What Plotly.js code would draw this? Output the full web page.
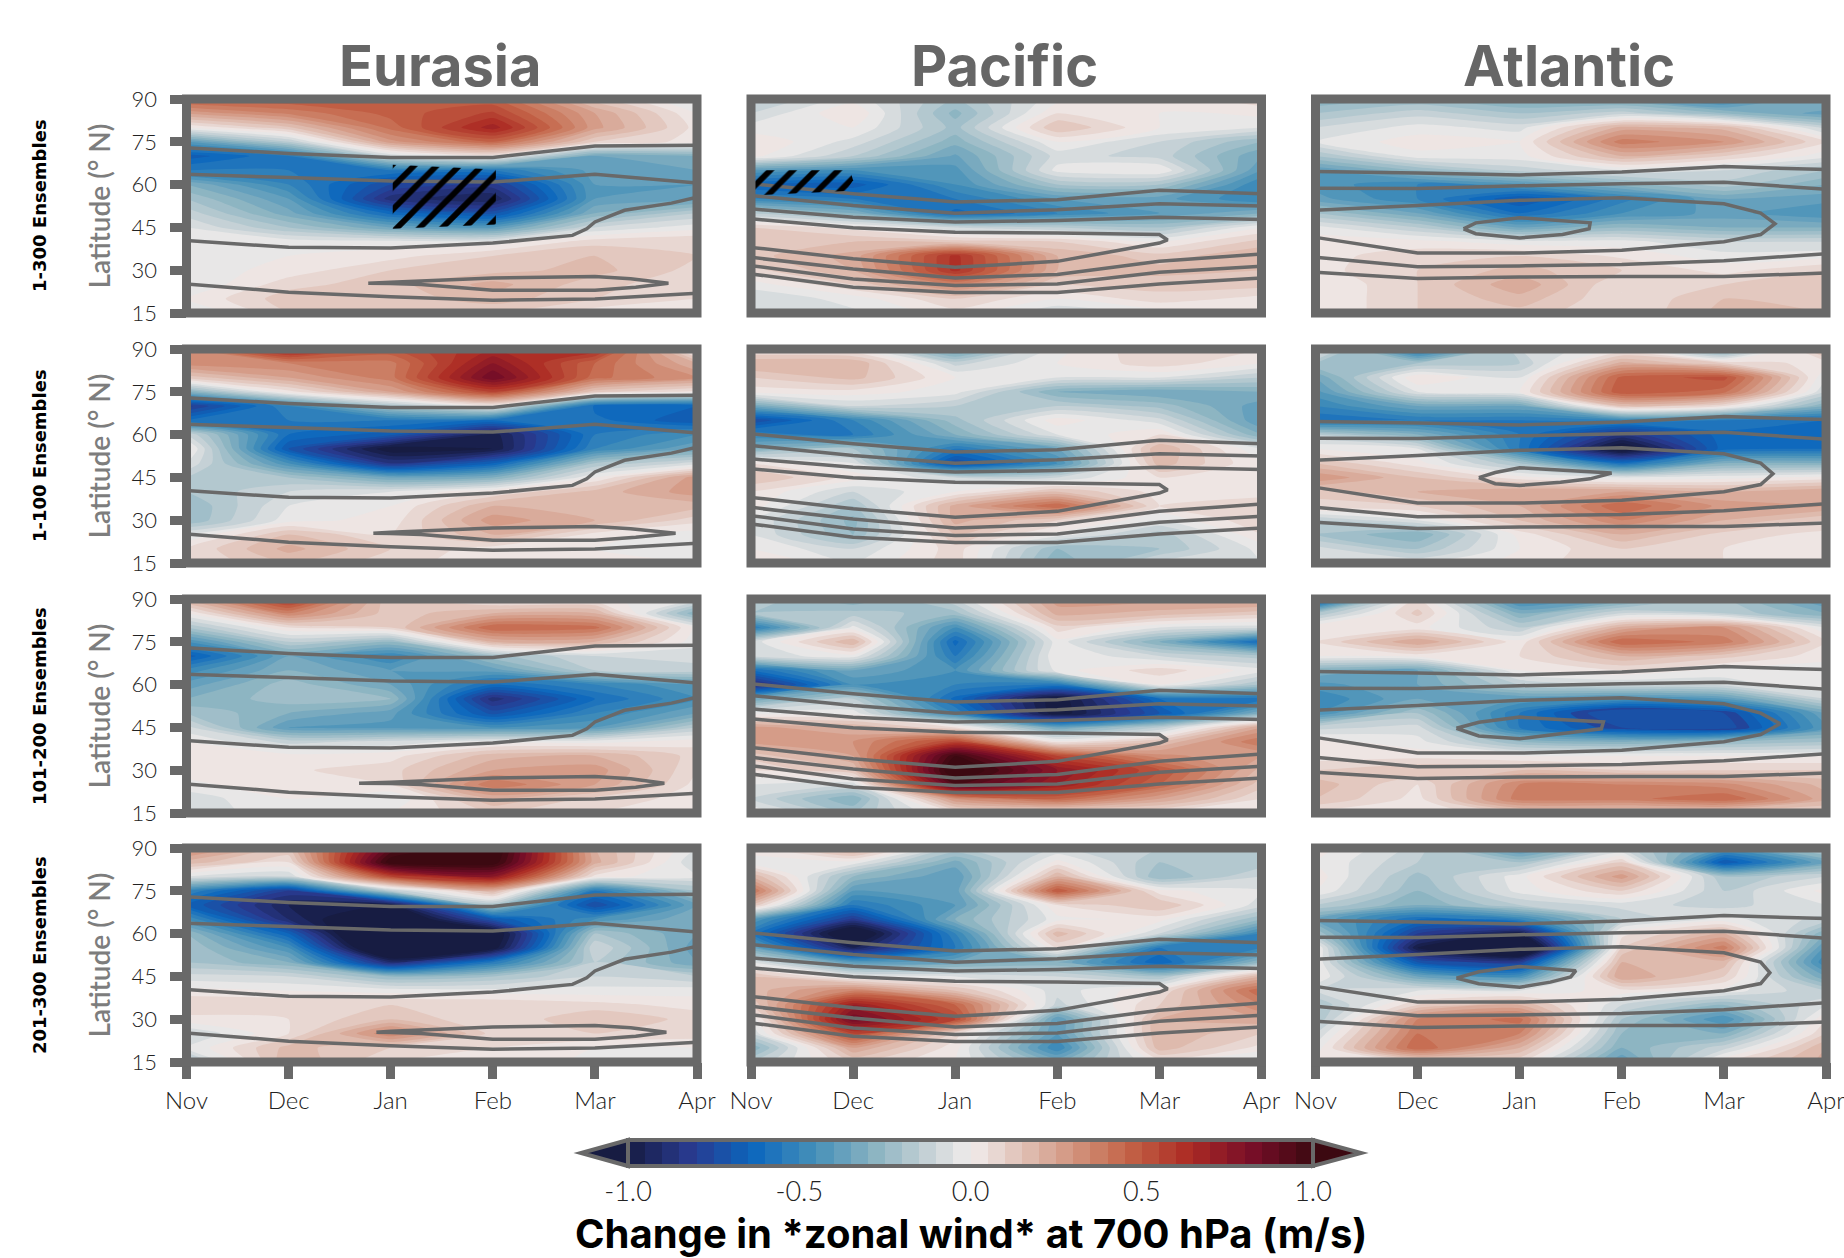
<!DOCTYPE html>
<html><head><meta charset="utf-8">
<script src="https://cdn.plot.ly/plotly-3.0.1.min.js"></script>
<style>html,body{margin:0;padding:0;background:#fff}</style></head>
<body><div id="chart" style="width:1844px;height:1258px"></div>
<script>
const months=["Nov","Dec","Jan","Feb","Mar","Apr"];
const monthPos=[0,1,2,3,4,5];
const lats=[90,85,80,75,70,65,60,55,50,45,40,35,30,25,20,15];
const latTicks=[15,30,45,60,75,90];
const regions=["Eurasia","Pacific","Atlantic"];
const ensembles=["1-300 Ensembles","1-100 Ensembles","101-200 Ensembles","201-300 Ensembles"];
// each panel: one list per month (Nov..Apr), values from 90N down to 15N
const eurasia_1_300=[
[.48,.26,0,-.4,-.68,-.55,-.3,-.2,-.12,-.05,0,0,-.03,-.05,0,-.08],
[.5,.36,.14,-.15,-.55,-.55,-.5,-.4,-.33,-.2,-.02,0,.02,.08,.13,.1],
[.5,.47,.42,.28,-.1,-.55,-.75,-.88,-.62,-.35,-.03,.03,.1,.13,.12,.12],
[.46,.56,.68,.45,.02,-.55,-.82,-.95,-.72,-.4,-.03,.1,.13,.22,.18,.1],
[.12,.25,.27,.1,-.35,-.38,-.4,-.4,-.3,-.1,.08,.15,.17,.12,.1,.02],
[-.08,0,.03,.03,-.3,-.35,-.4,-.38,-.15,-.02,.1,.1,.08,.06,.05,.02]];
const pacific_1_300=[
[-.18,-.1,-.03,.05,.02,-.4,-.65,-.5,-.15,.1,.13,.13,.08,-.03,-.09,-.04],
[-.02,.05,0,-.07,-.15,-.45,-.68,-.55,-.3,.03,.15,.22,.2,.1,-.03,-.06],
[-.2,-.27,-.22,-.28,-.36,-.42,-.45,-.55,-.62,-.1,.12,.62,.62,.35,.1,.03],
[-.02,.05,.15,0,-.08,-.03,-.2,-.4,-.5,-.15,.1,.2,.2,.1,0,-.1],
[.02,0,0,-.1,-.12,0,-.2,-.38,-.4,-.2,0,.12,.17,.12,.08,-.03],
[.08,.02,-.05,-.25,-.35,-.4,-.5,-.5,-.3,0,.12,.2,.15,.12,.03,0]];
const atlantic_1_300=[
[-.3,-.2,-.1,-.05,-.2,-.4,-.42,-.38,-.2,-.03,.03,.03,.03,0,0,0],
[-.25,-.12,-.03,.03,-.02,-.25,-.5,-.5,-.35,-.15,.02,.08,.1,.1,.1,.1],
[-.33,-.2,-.07,0,-.02,-.13,-.42,-.7,-.6,-.35,-.03,.1,.17,.24,.18,.13],
[-.35,-.12,.22,.38,.2,-.05,-.28,-.52,-.45,-.25,-.03,.04,.1,.05,.05,.05],
[-.5,-.25,.18,.3,.1,-.1,-.17,-.35,-.38,-.3,-.1,-.03,.03,.1,.15,.17],
[-.25,-.38,-.12,.05,-.03,-.2,-.3,-.38,-.45,-.3,-.1,-.02,.1,.15,.15,.15]];
const eurasia_1_100=[
[.35,.33,.12,-.3,-.82,-.6,-.1,.03,-.05,-.15,-.2,-.25,-.25,-.05,.05,.05],
[.7,.35,.25,.03,-.5,-.55,-.6,-.7,-.45,-.2,-.1,-.05,-.02,.15,.22,.15],
[.5,.38,.38,.25,-.2,-.55,-.68,-1.05,-.85,-.35,-.05,0,.02,.05,.1,.07],
[.65,.75,.85,.55,0,-.6,-.98,-1,-.65,-.3,.05,.2,.28,.2,.02,.02],
[.65,.45,.42,.12,-.62,-.58,-.55,-.5,-.2,0,.17,.2,.2,.03,0,.03],
[-.05,.2,.3,.03,-.65,-.7,-.45,-.35,-.08,.28,.28,.17,.07,-.03,0,0]];
const pacific_1_100=[
[.03,.2,.1,.02,-.35,-.75,-.5,-.3,.05,.15,.05,.03,-.05,-.05,0,.08],
[0,.2,.17,.03,-.1,-.5,-.55,-.2,-.05,.03,-.1,-.2,-.27,-.25,-.1,-.05],
[-.4,-.12,0,-.03,-.15,-.22,-.3,-.55,-.75,-.1,0,.22,.22,.15,.08,.08],
[-.02,0,-.05,-.3,-.15,.03,-.05,-.35,-.45,-.1,.15,.45,.1,-.02,-.25,-.3],
[.1,.08,-.05,-.35,-.22,-.08,.05,.2,.18,.05,.03,.05,-.05,-.18,-.2,-.08],
[.05,0,-.15,-.3,-.38,-.4,-.3,-.05,0,.05,.03,.08,.1,.05,-.03,-.05]];
const atlantic_1_100=[
[0,-.2,-.35,-.42,-.5,-.6,-.15,0,.15,.3,.12,.08,-.15,-.2,-.08,-.03],
[-.6,-.2,.05,-.05,-.35,-.55,-.3,-.05,.02,.15,.2,.1,-.05,-.3,-.2,-.05],
[-.1,-.15,-.05,0,-.35,-.55,-.55,-.55,-.2,.02,.25,.2,.15,.02,0,.02],
[0,.22,.47,.5,.15,-.5,-.85,-1.1,-.6,-.05,.25,.45,.35,.2,.1,.1],
[-.35,.1,.52,.42,.05,-.55,-.62,-.62,-.3,-.02,.2,.28,.2,.08,.05,.05],
[.22,.02,-.05,-.1,-.3,-.6,-.6,-.6,-.3,.02,.25,.25,.1,.03,.03,.02]];
const eurasia_101_200=[
[.22,0,-.2,-.45,-.68,-.48,-.38,-.3,-.2,-.08,0,.03,.03,-.02,-.08,-.1],
[.62,.35,.05,-.15,-.35,-.3,-.22,-.22,-.3,-.4,-.12,.02,.04,.05,0,0],
[.1,.12,.1,-.25,-.5,-.4,-.35,-.25,-.38,-.42,-.08,.03,.08,.05,-.05,0],
[.02,.2,.45,.2,-.22,-.38,-.6,-.88,-.72,-.45,-.02,.18,.25,.4,.2,.1],
[.02,.2,.42,.2,-.1,-.15,-.5,-.6,-.5,-.4,-.02,.2,.28,.25,.08,.05],
[-.05,-.3,-.02,-.03,-.08,-.12,-.4,-.45,-.35,-.15,.03,.08,.05,.03,.03,.02]];
const pacific_101_200=[
[-.15,-.2,-.55,-.08,-.08,-.6,-.9,-.35,-.03,.27,.27,.12,.05,-.05,-.1,0],
[-.3,-.18,-.03,.2,-.02,-.35,-.45,-.15,-.02,.2,.3,.25,.15,-.08,-.3,-.2],
[-.1,-.22,-.45,-.62,-.55,-.45,-.5,-.62,-.5,.05,.55,1,1.1,.95,.3,.03],
[.28,.22,.08,-.02,0,-.02,-.55,-1.05,-1.05,-.35,.02,.55,.75,.7,.45,.03],
[.27,.18,-.05,-.3,-.1,.08,0,-.6,-.7,-.15,.15,.32,.5,.45,.25,.03],
[.3,.12,-.08,-.62,-.18,-.03,-.2,-.58,-.3,.25,.4,.25,.18,.12,.05,.05]];
const atlantic_101_200=[
[-.75,-.2,.05,.05,0,-.3,-.42,-.5,-.45,-.12,.02,.02,.1,.18,.15,.03],
[.05,.12,.02,.25,.02,-.35,-.35,-.35,-.2,-.08,-.03,.03,.15,.05,.03,0],
[-.5,-.3,-.15,.02,.05,0,-.15,-.4,-.55,-.55,-.25,0,.15,.35,.38,.1],
[-.35,-.1,.22,.45,.2,.05,-.1,-.45,-.85,-.75,-.3,0,.1,.35,.38,.1],
[-.2,-.15,.3,.38,.12,-.02,-.08,-.4,-.75,-.8,-.25,0,.1,.32,.45,.1],
[-.42,-.3,-.05,.05,.02,-.03,0,-.1,-.35,-.4,-.2,0,.1,.18,.22,.07]];
const eurasia_201_300=[
[.35,.18,-.05,-.5,-.65,-.45,-.25,-.2,-.2,-.08,.02,.1,.03,-.1,-.05,-.2],
[.15,.05,-.1,-.8,-.95,-.9,-.65,-.45,-.3,-.1,0,.1,.05,.05,.17,.2],
[.9,1.05,.55,-.15,-1,-1.2,-1.4,-1.3,-.9,-.25,-.02,.1,.15,.35,.1,.05],
[1.1,1.05,.75,.2,-.2,-.7,-1.1,-1.05,-.55,-.2,-.03,.1,.05,.08,.05,.05],
[.2,.22,.03,-.55,-.75,-.45,-.2,-.1,-.15,-.1,-.03,.07,.15,.1,0,-.02],
[-.05,-.1,-.05,-.2,-.35,-.3,-.35,-.38,-.35,-.15,-.02,.03,.08,.08,0,-.05]];
const pacific_201_300=[
[.03,-.03,.2,.42,.15,-.4,-.55,-.35,-.05,.15,.17,.1,-.05,-.1,-.3,-.15],
[.25,-.02,-.25,-.4,-.55,-.82,-1.15,-.95,-.4,-.02,.35,.7,.85,.55,.25,.1],
[-.15,-.32,-.4,-.38,-.4,-.3,-.5,-.55,-.35,-.05,.15,.45,.55,.08,.02,0],
[-.1,.02,.2,.5,.05,-.02,.18,.05,-.3,-.1,-.08,-.12,-.4,-.4,-.5,-.3],
[-.15,-.2,-.25,.02,.15,.02,-.1,-.55,-.65,-.2,.05,.1,.2,.2,.18,.02],
[-.15,-.18,-.1,-.05,-.08,-.25,-.5,-.5,-.25,.2,.45,.35,.25,.1,.03,-.1]];
const atlantic_201_300=[
[.03,0,.03,0,-.15,-.35,-.2,.02,0,0,-.1,-.2,-.2,-.1,-.03,0],
[-.12,-.15,-.22,-.25,-.3,-.6,-.8,-1,-.7,-.35,-.05,.1,.35,.4,.45,.05],
[-.45,-.2,-.02,-.03,-.15,-.5,-1,-1.3,-.8,-.45,-.05,.2,.42,.35,.2,.05],
[-.12,.1,.28,.1,-.08,-.15,.03,.1,.2,.25,.03,-.1,-.2,-.25,-.3,-.4],
[-.4,-.7,-.2,-.15,-.12,-.03,.2,.38,.18,.1,-.02,-.25,-.45,-.3,-.12,.05],
[-.15,-.35,-.1,.02,-.05,-.12,-.3,-.42,-.5,-.35,-.15,-.05,.05,.1,.2,.22]];
const panels=[
[eurasia_1_300,pacific_1_300,atlantic_1_300],
[eurasia_1_100,pacific_1_100,atlantic_1_100],
[eurasia_101_200,pacific_101_200,atlantic_101_200],
[eurasia_201_300,pacific_201_300,atlantic_201_300]];
// climatology contours: [months, latitudes]
const eurasiaLines=[
[[0,1,2,3,4,5],[72.9,70.9,69.5,69.5,73.5,73.8]],
[[0,1,2,3,4,5],[63.6,62.5,61.3,60.9,63.6,60.6]],
[[0,1,2,3,3.78,3.92,4,4.29,4.75,5],[40.4,38,37.8,39.5,42.2,44.5,46.9,51,53.5,55.6]],
[[0,1,2,3,4,5],[25.2,22.3,20.7,19.5,19.9,21.9]]];
const eurasiaLensTips=[[1.78,4.72],[1.83,4.79],[1.69,4.68],[1.86,4.7]];
const eurasiaLensUpper=[25.8,27.3,27.8,27];
const eurasiaLensLower=[24,23,23,25];
const pacificLines=[
[[0,1,2,3,4,5],[60.3,56.8,53.9,54.7,58,56.8]],
[[0,1,2,3,4,5],[56.2,52.7,50,51.2,53.3,52.5]],
[[0,1,2,3,4,5],[51.5,48.6,46.9,47.4,48.6,47.8]],
[[0,1,2,3,4,4.08,4,3,2,1,0],[48,44.9,43.3,43,42.5,40.6,39.5,33.1,31,34,38]],
[[0,1,2,3,4,5],[34.5,30.4,27.3,28.5,33.1,35.7]],
[[0,1,2,3,4,5],[31.6,26.9,24.6,25.2,29.3,31.4]],
[[0,1,2,3,4,5],[28.7,24,22.2,22.2,25.2,27.3]]];
const atlanticLines=[
[[0,1,2,3,4,5],[64.6,64.1,63.4,64.4,66.3,65.3]],
[[0,1,2,3,4,5],[58.7,58.6,59.6,60.3,60.8,58.4]],
[[0,1,2,3,4,5],[34.5,31.2,31.5,32,33.3,35.8]],
[[0,1,2,3,4,5],[29.3,27.1,27.6,27.8,27.8,29]]];
const atlanticBigTip=[4.5,4.48,4.55,4.45];
const atlanticBigX=[0,1,2,3,4,4.36,null,4.36,4,3,2,1,0];
const atlanticBigLat=[51,52.7,54.5,55.4,53.3,50,null,42.5,40,37,36,36,41.5];
const atlanticSmall=[
[[1.45,1.57,2,2.69,2.68,2.42,2,1.57,1.45],[44.5,46.6,48.4,46.6,44.5,42.5,41.3,42.8,44.5]],
[[1.6,1.76,2,2.9,2.69,2.4,2,1.76,1.6],[44.9,46.7,48.4,46.5,44.5,43.3,42.2,42.8,44.9]],
[[1.38,1.6,2,2.82,2.8,2.4,2,1.6,1.38],[44.7,46.8,48.6,46.9,44.5,42.8,41,42,44.7]],
[[1.38,1.6,2,2.55,2.5,2.3,2,1.6,1.38],[44.4,46.6,48.5,47,44.8,43,41.2,42.4,44.4]]];
// significance regions
const hatchEurasiaX=[2.02,3.03,3.03,2.02,2.02];
const hatchEurasiaY=[67,65.3,46,44.5,67];
const hatchPacificX=[0,.97,1,.93,0,0];
const hatchPacificY=[65,65,61.5,57.8,56.2,65];
const colorStops=[[0,"rgb(23,28,66)"],[.0909,"rgb(41,58,143)"],[.1818,"rgb(11,102,189)"],[.2727,"rgb(69,144,185)"],[.3636,"rgb(142,181,194)"],[.4545,"rgb(210,216,219)"],[.5,"rgb(241,236,236)"],[.5455,"rgb(230,210,204)"],[.6364,"rgb(213,157,137)"],[.7273,"rgb(196,101,72)"],[.8182,"rgb(172,43,36)"],[.9091,"rgb(120,14,40)"],[1,"rgb(60,9,17)"]];
const cbTicks=[-1,-.5,0,.5,1];
const cbLabels=["-1.0","-0.5","0.0","0.5","1.0"];

// layout geometry, in pixels
const W=1844,H=1258,GREY="#696969";
const colL=[186.5,751,1315.5],colW=510.5;
const rowT=[99,349,599,848],rowH=214;
const px=v=>v/W, py=v=>1-v/H;
const FONT="Lato, 'Noto Sans', sans-serif";
const BOLD="Inter, Lato, sans-serif";

const traces=[],annotations=[],shapes=[],layout={};
panels.forEach((row,r)=>row.forEach((monthly,c)=>{
  const id=r*3+c+1, xa="x"+id, ya="y"+id;
  const z=lats.map((_,j)=>monthly.map(m=>m[j]));
  traces.push({type:"contour",x:monthPos,y:lats,z,xaxis:xa,yaxis:ya,zmin:-1,zmax:1,colorscale:colorStops,
    autocontour:false,contours:{start:-1,end:1,size:.05,coloring:"fill",showlines:false},
    line:{width:0,smoothing:.6},hoverinfo:"skip",
    showscale:id===1,
    colorbar:id===1?{orientation:"h",thickness:26,thicknessmode:"pixels",len:685,lenmode:"pixels",x:px(970.5),xanchor:"center",
      y:py(1140),yanchor:"top",xpad:0,ypad:0,outlinecolor:GREY,outlinewidth:4,ticks:"",tickmode:"array",tickvals:cbTicks,ticktext:cbLabels,
      tickfont:{family:FONT,size:27,color:"#222",weight:300},ticklabelposition:"outside"}:undefined});
  let lines;
  if(c===0){
    const [a,b]=eurasiaLensTips[r];
    lines=eurasiaLines.concat([[[a,2,3,4,4.35,b,4.4,4,3,2.3,2,a],[25.4].concat(eurasiaLensUpper,[25.4,eurasiaLensLower[0]],eurasiaLensLower.slice(1),[25.3,25.4])]]);
  } else if(c===1){ lines=pacificLines; }
  else {
    const bx=atlanticBigX.slice(), by=atlanticBigLat.slice();
    bx[6]=atlanticBigTip[r]; by[6]=46.3;
    lines=atlanticLines.concat([[bx,by],atlanticSmall[r]]);
  }
  lines.forEach(l=>traces.push({type:"scatter",mode:"lines",x:l[0],y:l[1],xaxis:xa,yaxis:ya,line:{color:GREY,width:3.5,simplify:false},hoverinfo:"skip",showlegend:false}));
  const last=r===panels.length-1, first=c===0;
  const xAxisKey="xaxis"+(id===1?"":id), yAxisKey="yaxis"+(id===1?"":id);
  layout[xAxisKey]={domain:[px(colL[c]),px(colL[c]+colW)],range:[0,5],anchor:ya,showgrid:false,zeroline:false,showline:false,
    tickmode:"array",tickvals:monthPos,ticktext:months,ticks:last?"outside":"",ticklen:16,tickwidth:9,tickcolor:GREY,showticklabels:last,
    ticklabelstandoff:1,ticklabeloverflow:"allow",tickfont:{family:FONT,size:24,color:"#222",weight:300}};
  layout[yAxisKey]={domain:[py(rowT[r]+rowH),py(rowT[r])],range:[15,90],anchor:xa,showgrid:false,zeroline:false,showline:false,
    tickmode:"array",tickvals:latTicks,ticks:first?"outside":"",ticklen:16,tickwidth:9,tickcolor:GREY,showticklabels:first,
    ticklabelstandoff:8,tickfont:{family:FONT,size:22,color:"#222",weight:300},
    title:first?{text:"Latitude (° N)",font:{family:FONT,size:28,color:"#7d7d7d",weight:600},standoff:12}:undefined};
  shapes.push({type:"rect",xref:"paper",yref:"paper",x0:px(colL[c]),x1:px(colL[c]+colW),y0:py(rowT[r]+rowH),y1:py(rowT[r]),
    line:{color:GREY,width:9},fillcolor:"rgba(0,0,0,0)",layer:"above"});
}));
function hatch(xs,ys,id){traces.push({type:"scatter",mode:"none",x:xs,y:ys,xaxis:"x"+id,yaxis:"y"+id,fill:"toself",fillcolor:"rgba(0,0,0,0)",
  fillpattern:{shape:"/",fgcolor:"#000",fgopacity:1,bgcolor:"rgba(0,0,0,0)",size:16,solidity:.36,fillmode:"overlay"},hoverinfo:"skip",showlegend:false});}
hatch(hatchEurasiaX,hatchEurasiaY,1);
hatch(hatchPacificX,hatchPacificY,2);

regions.forEach((t,c)=>annotations.push({xref:"paper",yref:"paper",x:px(colL[c]+colW/2-2),y:py(66),text:t,showarrow:false,xanchor:"center",yanchor:"middle",
  font:{family:BOLD,size:56,color:"#666",weight:700}}));
ensembles.forEach((t,r)=>annotations.push({xref:"paper",yref:"paper",x:px(39),y:py(rowT[r]+rowH/2),text:t,textangle:-90,showarrow:false,xanchor:"center",yanchor:"middle",
  font:{family:"'DejaVu Sans', sans-serif",size:18,color:"#000",weight:700}}));
annotations.push({xref:"paper",yref:"paper",x:px(971),y:py(1233),text:"Change in *zonal wind* at 700 hPa (m/s)",showarrow:false,xanchor:"center",yanchor:"middle",
  font:{family:BOLD,size:40,color:"#000",weight:700}});
// colour-bar extension arrows
const tri=(a,b)=>`M ${px(a)} ${py(1140)} L ${px(b)} ${py(1153)} L ${px(a)} ${py(1166)} Z`;
shapes.push({type:"path",xref:"paper",yref:"paper",path:tri(628,581),fillcolor:"rgb(23,28,66)",line:{color:GREY,width:4},layer:"above"});
shapes.push({type:"path",xref:"paper",yref:"paper",path:tri(1313,1361),fillcolor:"rgb(60,9,17)",line:{color:GREY,width:4},layer:"above"});

Object.assign(layout,{width:W,height:H,margin:{l:0,r:0,t:0,b:0,pad:0,autoexpand:false},paper_bgcolor:"#fff",plot_bgcolor:"#fff",showlegend:false,annotations,shapes});
Plotly.newPlot("chart",traces,layout,{displayModeBar:false,staticPlot:true});
</script></body></html>
